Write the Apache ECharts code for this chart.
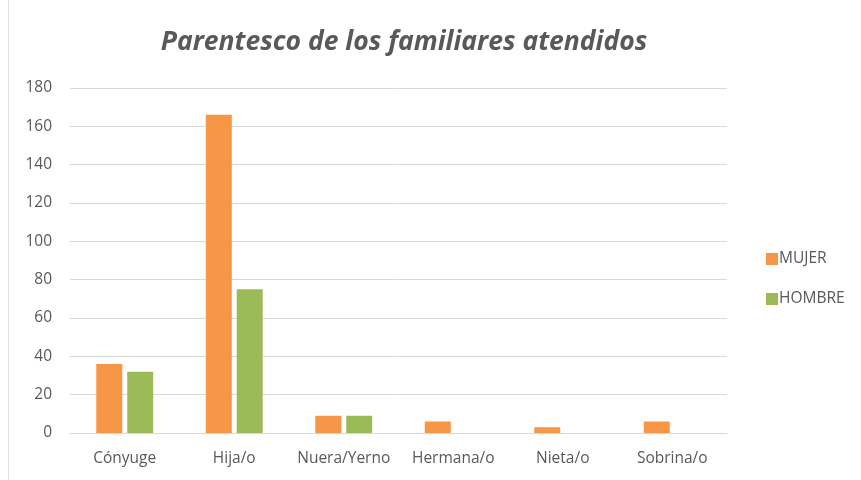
<!DOCTYPE html>
<html><head><meta charset="utf-8">
<script src="https://cdn.jsdelivr.net/npm/echarts@6/dist/echarts.min.js"></script>
<style>html,body{margin:0;padding:0;background:#fff}#c{width:861px;height:480px}</style>
</head><body><div id="c"></div>
<script>
const categories = ['Cónyuge','Hija/o','Nuera/Yerno','Hermana/o','Nieta/o','Sobrina/o'];
const mujer = [36,166,9,6,3,6];
const hombre = [32,75,9,0,0,0];
const seriesNames = ['MUJER','HOMBRE'];
const chart = echarts.init(document.getElementById('c'));
chart.setOption({
  animation:false,
  backgroundColor:'#fff',
  title:{text:'Parentesco de los familiares atendidos',left:399,top:24,textAlign:'center',
    textStyle:{fontFamily:'Open Sans',fontStyle:'italic',fontWeight:'bold',fontSize:26.5,color:'#595959'}},
  legend:{orient:'vertical',left:761,top:246,itemGap:24,itemWidth:12,itemHeight:12,
    icon:'rect',textStyle:{fontFamily:'Open Sans',fontSize:15.5,color:'#595959',padding:[0,0,0,-4]},data:seriesNames},
  grid:{left:70,right:134,top:88,bottom:47},
  xAxis:{type:'category',data:categories,axisTick:{show:false},
    axisLine:{lineStyle:{color:'#d9d9d9',width:1}},
    axisLabel:{color:'#595959',fontFamily:'Open Sans',fontSize:15.5,margin:18,interval:0}},
  yAxis:{type:'value',min:0,max:180,interval:20,
    axisLine:{show:false},axisTick:{show:false},
    axisLabel:{color:'#595959',fontFamily:'Open Sans',fontSize:15.5,margin:18},
    splitLine:{lineStyle:{color:'#d9d9d9',width:1}}},
  series:[
    {name:seriesNames[0],type:'bar',data:mujer,barWidth:26,barGap:'19%',itemStyle:{color:'#F79646'}},
    {name:seriesNames[1],type:'bar',data:hombre,barWidth:26,barGap:'19%',itemStyle:{color:'#9BBB59'}}
  ],
  graphic:[{type:'line',shape:{x1:8.5,y1:0,x2:8.5,y2:480},style:{stroke:'#e0e0e0',lineWidth:1}}]
});
</script></body></html>
